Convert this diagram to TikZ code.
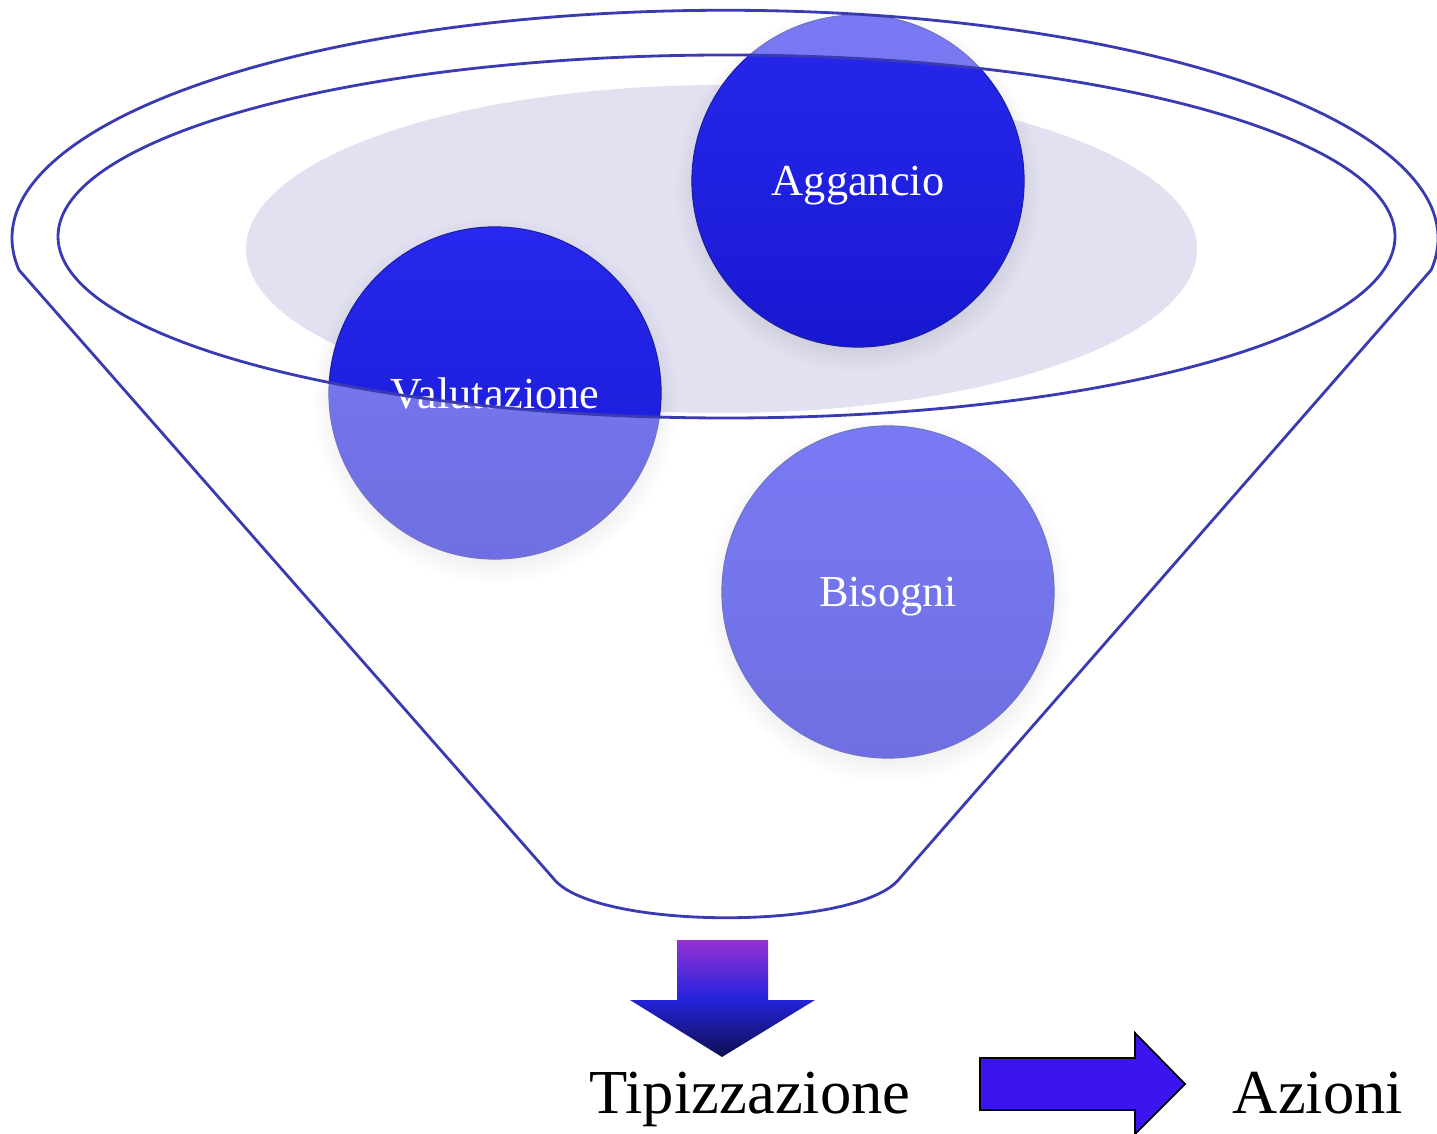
\documentclass[tikz,border=0pt]{standalone}
\usepackage{fontspec}
\setmainfont{Liberation Serif}
\usepackage{xcolor}
\usetikzlibrary{shapes,arrows,positioning,shadows}

\definecolor{funnelline}{RGB}{58,58,178}
\definecolor{palelav}{RGB}{225,225,242}
\definecolor{bubbletop}{RGB}{40,40,238}
\definecolor{bubblebot}{RGB}{24,24,210}
\definecolor{bubbleedge}{RGB}{30,30,160}
\definecolor{arrowtop}{RGB}{150,50,210}
\definecolor{arrowmid}{RGB}{35,35,220}
\definecolor{arrowbot}{RGB}{15,15,80}
\definecolor{arrowfill}{RGB}{60,20,240}

\begin{document}
\begin{tikzpicture}[
    x=0.01cm, y=-0.01cm,
    bubble/.style={circle, minimum size=3.32cm, inner sep=0pt, text depth=0pt, top color=bubbletop, bottom color=bubblebot, draw=bubbleedge, line width=0.3pt, text=white, font=\fontsize{12.6}{15}\selectfont, circular drop shadow={shadow xshift=0pt, shadow yshift=-2pt, opacity=0.2}},
    bigtext/.style={font=\fontsize{17.8}{21}\selectfont, anchor=base},
    rim/.style={draw=funnelline, line width=0.8pt}
]
    \useasboundingbox (0,0) rectangle (1437,1134);

    % pale shadow inside the mouth
    \fill[palelav] (721.5,249) ellipse [x radius=475.5, y radius=164];

    \node[bubble] (aggancio) at (858,181) {Aggancio};
    \node[bubble] (valutazione) at (495,393) {Valutazione};
    \node[bubble] (bisogni) at (888,592) {Bisogni};

    % funnel body, seen through
    \path[rim, fill=white, fill opacity=0.38, even odd rule]
        (19,270) arc[start angle=172, end angle=368, x radius=713, y radius=228]
        -- (900,878) .. controls (860,931) and (593,931) .. (553,878) -- cycle
        (726.5,236.5) ellipse [x radius=668.5, y radius=181.5];

    % down arrow
    \coordinate (dtop) at (722,940);
    \coordinate (dtip) at (722,1057);
    \path[top color=arrowtop, bottom color=arrowbot, middle color=arrowmid]
        (677,940) -- (768,940) -- (768,1000) -- (815,1000) -- (dtip) -- (630,1000) -- (677,1000) -- cycle;

    \node[bigtext] (tipo) at (750,1113) {Tipizzazione};

    % right arrow
    \draw[fill=arrowfill, line width=0.5pt]
        (980,1058) -- (1135,1058) -- (1135,1033) -- (1185,1084) -- (1135,1134) -- (1135,1110) -- (980,1110) -- cycle;

    \node[bigtext] (azioni) at (1318,1113) {Azioni};
\end{tikzpicture}
\end{document}
